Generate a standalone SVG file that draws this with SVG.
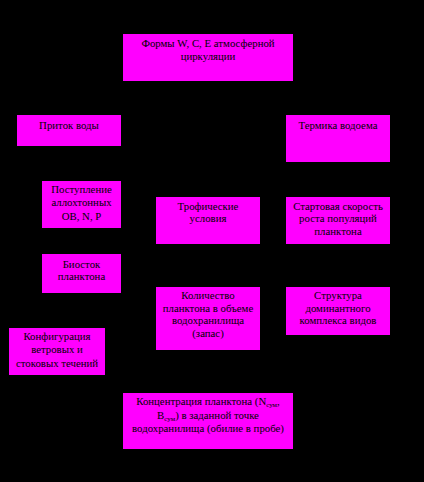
<svg xmlns="http://www.w3.org/2000/svg" width="424" height="482" viewBox="0 0 424 482">
<style>
.b{fill:#ff00ff;stroke:none}
.t{font-family:"Liberation Serif","Times New Roman",serif;font-size:10.8px;fill:#000;text-anchor:middle}
.s{font-size:7px}
</style>
<rect width="424" height="482" fill="#000"/>
<g id="connectors"></g>
<g id="n1"><rect class="b" x="123" y="34" width="170" height="47"/>
<text class="t" x="208" y="47">Формы W, C, E атмосферной</text><text class="t" x="208" y="60">циркуляции</text></g>
<g id="n2"><rect class="b" x="17" y="115" width="104" height="31"/>
<text class="t" x="69" y="129">Приток воды</text></g>
<g id="n3"><rect class="b" x="286" y="115" width="104" height="47"/>
<text class="t" x="338" y="129">Термика водоема</text></g>
<g id="n4"><rect class="b" x="42" y="181" width="79" height="47"/>
<text class="t" x="81.5" y="193">Поступление</text><text class="t" x="81.5" y="206">аллохтонных</text><text class="t" x="81.5" y="220">ОВ, N, P</text></g>
<g id="n5"><rect class="b" x="156" y="197" width="104" height="47"/>
<text class="t" x="208" y="210">Трофические</text><text class="t" x="208" y="222">условия</text></g>
<g id="n6"><rect class="b" x="286" y="197" width="104" height="47"/>
<text class="t" x="338" y="210">Стартовая скорость</text><text class="t" x="338" y="222">роста популяций</text><text class="t" x="338" y="235">планктона</text></g>
<g id="n7"><rect class="b" x="42" y="254" width="79" height="39"/>
<text class="t" x="81.5" y="268">Биосток</text><text class="t" x="81.5" y="280">планктона</text></g>
<g id="n8"><rect class="b" x="156" y="287" width="104" height="63"/>
<text class="t" x="208" y="299">Количество</text><text class="t" x="208" y="312">планктона в объеме</text><text class="t" x="208" y="324">водохранилища</text><text class="t" x="208" y="337">(запас)</text></g>
<g id="n9"><rect class="b" x="286" y="287" width="104" height="48"/>
<text class="t" x="338" y="299">Структура</text><text class="t" x="338" y="312">доминантного</text><text class="t" x="338" y="324">комплекса видов</text></g>
<g id="n10"><rect class="b" x="9" y="328" width="96" height="47"/>
<text class="t" x="57" y="340">Конфигурация</text><text class="t" x="57" y="353">ветровых и</text><text class="t" x="57" y="367">стоковых течений</text></g>
<g id="n11"><rect class="b" x="123" y="393" width="170" height="56"/>
<text class="t" x="208" y="405">Концентрация планктона (N<tspan class="s" dy="2">сум</tspan><tspan dy="-2">,</tspan></text>
<text class="t" x="208" y="419">B<tspan class="s" dy="2">сум</tspan><tspan dy="-2">) в заданной точке</tspan></text>
<text class="t" x="208" y="432">водохранилища (обилие в пробе)</text></g>
</svg>
